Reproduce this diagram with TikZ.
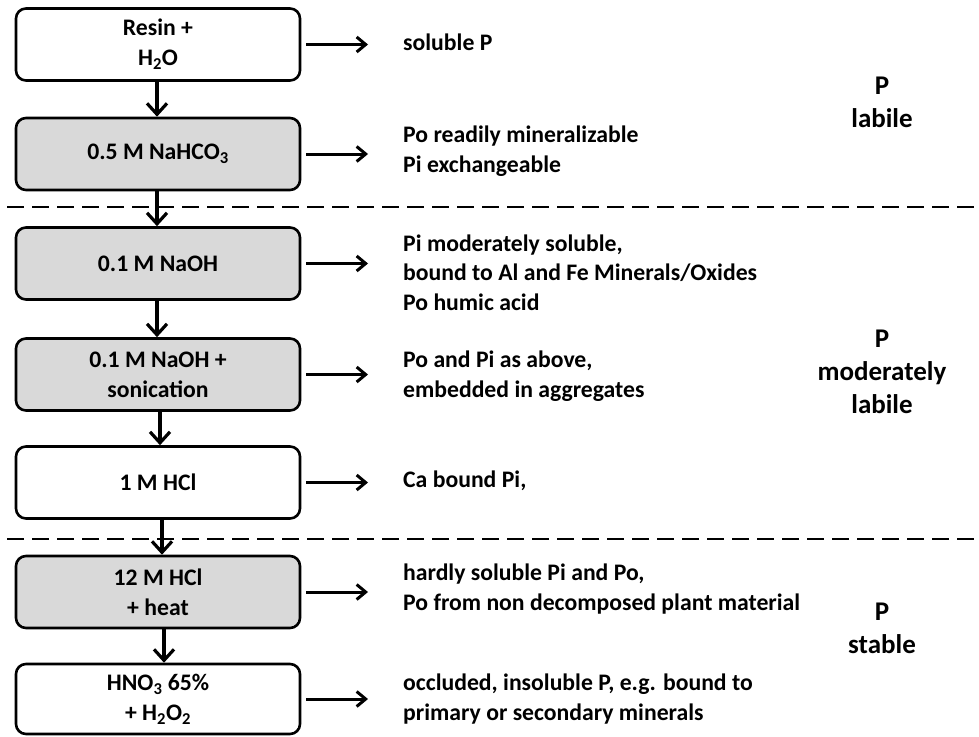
\documentclass[tikz,border=0pt]{standalone}
\usepackage{fontspec}
\setmainfont{Carlito}
\usetikzlibrary{arrows.meta}
\definecolor{boxgrey}{RGB}{217,217,217}
\newcommand{\boxfont}{\fontsize{23.7}{30}\selectfont\bfseries}
\newcommand{\descfont}{\fontsize{23.7}{29.5}\selectfont\bfseries}
\newcommand{\catfont}{\fontsize{27}{33}\selectfont\bfseries}
\tikzset{
  stepbox/.style={draw, line width=2.6pt, rounded corners=10pt, minimum width=284pt,
    minimum height=72pt, align=center, font=\boxfont, inner sep=0pt},
  greybox/.style={stepbox, fill=boxgrey},
  desc/.style={anchor=base west, align=left, font=\descfont, inner sep=0pt},
  cat/.style={anchor=base, align=center, font=\catfont, inner sep=0pt},
  varrow/.style={line width=3.2pt, -{Straight Barb[length=11pt,width=20pt,line width=3.2pt]}},
  harrow/.style={line width=3pt, -{Straight Barb[length=9pt,width=15pt,line width=3pt]},
    shorten <=5pt, shorten >=35pt},
  dashline/.style={line width=2pt, dash pattern=on 17pt off 8pt}
}
\begin{document}
\begin{tikzpicture}[x=1pt,y=-1pt]
\useasboundingbox (0,0) rectangle (979,736);
% dashed separators
\draw[dashline] (7,207) -- (979,207);
\draw[dashline] (7,539) -- (979,539);
% boxes
\node[stepbox] (b1) at (158,44.5) {Resin +\\H\textsubscript{2}O};
\node[greybox] (b2) at (158,154) {0.5 M NaHCO\textsubscript{3}};
\node[greybox] (b3) at (158,263.5) {0.1 M NaOH};
\node[greybox] (b4) at (158,374.5) {0.1 M NaOH +\\sonication};
\node[stepbox] (b5) at (158,482.5) {1 M HCl};
\node[greybox] (b6) at (158,592) {12 M HCl\\+ heat};
\node[stepbox, minimum height=70pt] (b7) at (158,699) {HNO\textsubscript{3} 65\%\\+ H\textsubscript{2}O\textsubscript{2}};
% descriptions (anchored at the baseline of the last line)
\node[desc] (t1) at (403,50) {soluble P};
\node[desc] (t2) at (403,172) {Po readily mineralizable\\Pi exchangeable};
\node[desc] (t3) at (403,310) {Pi moderately soluble,\\bound to Al and Fe Minerals/Oxides\\Po humic acid};
\node[desc] (t4) at (403,397) {Po and Pi as above,\\embedded in aggregates};
\node[desc] (t5) at (403,487) {Ca bound Pi,};
\node[desc] (t6) at (403,610) {hardly soluble Pi and Po,\\Po from non decomposed plant material};
\node[desc] (t7) at (403,720) {occluded, insoluble P, e.g. bound to\\primary or secondary minerals};
% categories
\node[cat] (c1) at (882,127) {P\\labile};
\node[cat] (c2) at (882,413) {P\\moderately\\labile};
\node[cat] (c3) at (882,653) {P\\stable};
% vertical arrows
\draw[varrow] ([xshift=-1pt]b1.south) -- ([xshift=-1pt]b2.north);
\draw[varrow] ([xshift=-1pt]b2.south) -- ([xshift=-1pt]b3.north);
\draw[varrow] ([xshift=-1pt]b3.south) -- ([xshift=-1pt]b4.north);
\draw[varrow] ([xshift=2pt]b4.south) -- ([xshift=2pt]b5.north);
\draw[varrow] ([xshift=4pt]b5.south) -- ([xshift=4pt]b6.north);
\draw[varrow] ([xshift=6pt]b6.south) -- ([xshift=6pt]b7.north);
% horizontal arrows
\draw[harrow] (b1.east) -- (t1.west |- b1.east);
\draw[harrow] (b2.east) -- (t2.west |- b2.east);
\draw[harrow] (b3.east) -- (t3.west |- b3.east);
\draw[harrow] (b4.east) -- (t4.west |- b4.east);
\draw[harrow] (b5.east) -- (t5.west |- b5.east);
\draw[harrow] (b6.east) -- (t6.west |- b6.east);
\draw[harrow] (b7.east) -- (t7.west |- b7.east);
\end{tikzpicture}
\end{document}
